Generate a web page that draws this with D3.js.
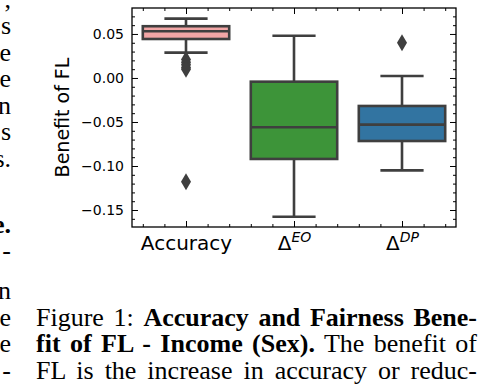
<!DOCTYPE html>
<html>
<head>
<meta charset="utf-8">
<script src="https://cdn.jsdelivr.net/npm/d3@7"></script>
<style>
  html, body { margin: 0; padding: 0; background: #fff; }
  svg { display: block; }
  .tick text { font-family: "DejaVu Sans", sans-serif; fill: #000; }
</style>
</head>
<body>
<svg id="chart" width="478" height="392"></svg>
<script>
// box plot summary
const categories = ['Accuracy', 'EO', 'DP'];
const q1 = [0.0443, -0.0920, -0.0716];
const median = [0.0531, -0.0560, -0.0530];
const q3 = [0.0588, -0.0042, -0.0318];
const whiskerLow = [0.0288, -0.1576, -0.1050];
const whiskerHigh = [0.0674, 0.0480, 0.0023];
const outliers = [[0.021, 0.018, 0.015, 0.012, 0.010, -0.118], [], [0.040]];
const boxColors = ['#f2a6a6', '#3d9439', '#3274a1'];

const yMajor = [-0.15, -0.10, -0.05, 0.00, 0.05];
const yMinor = d3.range(-16, 8).map(d => d / 100).filter(v => !yMajor.some(m => Math.abs(m - v) < 1e-9));
const xMinor = [-0.4, -0.2, 0.2, 0.4, 0.6, 0.8, 1.2, 1.4, 1.6, 1.8, 2.2, 2.4];

// surrounding page text
const leftFragments = [
  {t: ',', y: 8}, {t: 's', y: 34}, {t: 'e', y: 61}, {t: 'e', y: 87}, {t: 'n', y: 114},
  {t: 's', y: 140}, {t: 's.', y: 167}, {t: 'e.', y: 233, bold: true}, {t: '-', y: 259},
  {t: 'n', y: 299}, {t: 'e', y: 326}, {t: 'e', y: 352}, {t: '-', y: 379}
];
const captionLines = [
  [{t: 'Figure 1: '}, {t: 'Accuracy and Fairness Bene-', bold: true}],
  [{t: 'fit of FL - Income (Sex).', bold: true}, {t: ' The benefit of'}],
  [{t: 'FL is the increase in accuracy or reduc-'}]
];

const svg = d3.select('#chart');
const W = 478, H = 392;
svg.append('rect').attr('width', W).attr('height', H).attr('fill', '#fff');

const plot = {left: 132, right: 456, top: 8, bottom: 227};
const x = d3.scaleLinear().domain([-0.5, 2.5]).range([plot.left, plot.right]);
const y = d3.scaleLinear().domain([-0.1693, 0.0795]).range([plot.bottom, plot.top]);
const fmt = v => d3.format('.2f')(v).replace('-', '\u2212');
const lineCol = '#3f3f3f';

// boxes
const boxW = (x(1) - x(0)) * 0.8;
const capW = boxW / 2;
const g = svg.append('g');
categories.forEach((c, i) => {
  const cx = x(i);
  const bg = g.append('g');
  bg.append('line').attr('x1', cx).attr('x2', cx).attr('y1', y(q3[i])).attr('y2', y(whiskerHigh[i]))
    .attr('stroke', lineCol).attr('stroke-width', 2.6);
  bg.append('line').attr('x1', cx).attr('x2', cx).attr('y1', y(q1[i])).attr('y2', y(whiskerLow[i]))
    .attr('stroke', lineCol).attr('stroke-width', 2.6);
  [whiskerHigh[i], whiskerLow[i]].forEach(v => {
    bg.append('line').attr('x1', cx - capW / 2).attr('x2', cx + capW / 2).attr('y1', y(v)).attr('y2', y(v))
      .attr('stroke', lineCol).attr('stroke-width', 2.6);
  });
  bg.append('rect').attr('x', cx - boxW / 2).attr('width', boxW)
    .attr('y', y(q3[i])).attr('height', y(q1[i]) - y(q3[i]))
    .attr('fill', boxColors[i]).attr('stroke', lineCol).attr('stroke-width', 2.6);
  bg.append('line').attr('x1', cx - boxW / 2).attr('x2', cx + boxW / 2).attr('y1', y(median[i])).attr('y2', y(median[i]))
    .attr('stroke', lineCol).attr('stroke-width', 2.6);
  bg.selectAll('path.flier').data(outliers[i]).join('path').attr('class', 'flier')
    .attr('d', d => `M${cx},${y(d) - 8.5}L${cx + 5},${y(d)}L${cx},${y(d) + 8.5}L${cx - 5},${y(d)}Z`)
    .attr('fill', lineCol);
});

// frame and ticks (pointing inward on all four sides)
const axes = svg.append('g').attr('stroke-width', 1);
const left = axes.append('g').attr('transform', `translate(${plot.left},0)`)
  .call(d3.axisLeft(y).tickValues(yMajor).tickSizeInner(-6).tickSizeOuter(0).tickPadding(8).tickFormat(fmt));
left.selectAll('text').style('font-size', '14px');
axes.append('g').attr('transform', `translate(${plot.left},0)`)
  .call(d3.axisLeft(y).tickValues(yMinor).tickSizeInner(-3).tickSizeOuter(0).tickFormat(''));
axes.append('g').attr('transform', `translate(${plot.right},0)`)
  .call(d3.axisRight(y).tickValues(yMajor).tickSizeInner(-6).tickSizeOuter(0).tickFormat(''));
axes.append('g').attr('transform', `translate(${plot.right},0)`)
  .call(d3.axisRight(y).tickValues(yMinor).tickSizeInner(-3).tickSizeOuter(0).tickFormat(''));
const bottom = axes.append('g').attr('transform', `translate(0,${plot.bottom})`)
  .call(d3.axisBottom(x).tickValues([0, 1, 2]).tickSizeInner(-6).tickSizeOuter(0).tickFormat(''));
axes.append('g').attr('transform', `translate(0,${plot.bottom})`)
  .call(d3.axisBottom(x).tickValues(xMinor).tickSizeInner(-3).tickSizeOuter(0).tickFormat(''));
axes.append('g').attr('transform', `translate(0,${plot.top})`)
  .call(d3.axisTop(x).tickValues([0, 1, 2]).tickSizeInner(-6).tickSizeOuter(0).tickFormat(''));
axes.append('g').attr('transform', `translate(0,${plot.top})`)
  .call(d3.axisTop(x).tickValues(xMinor).tickSizeInner(-3).tickSizeOuter(0).tickFormat(''));
axes.selectAll('.domain').remove();
axes.selectAll('.tick line').attr('stroke', '#000');
svg.append('rect').attr('x', plot.left).attr('y', plot.top)
  .attr('width', plot.right - plot.left).attr('height', plot.bottom - plot.top)
  .attr('fill', 'none').attr('stroke', '#000').attr('stroke-width', 1.3);

// x labels: plain text and Delta with superscripts
bottom.selectAll('.tick').each(function(d) {
  const t = d3.select(this).append('text').attr('y', 23).attr('text-anchor', 'middle')
    .style('font-size', '20px').attr('fill', '#000');
  if (d === 0) {
    t.text(categories[0]);
  } else {
    t.append('tspan').text('\u0394');
    t.append('tspan').text(categories[d]).attr('dy', -8).style('font-size', '14px').style('font-style', 'italic');
  }
});

// y label
svg.append('text').attr('transform', `translate(69,${(plot.top + plot.bottom) / 2}) rotate(-90)`)
  .attr('text-anchor', 'middle').style('font-family', '"DejaVu Sans", sans-serif').style('font-size', '19px')
  .text('Benefit of FL');

// page text left of the figure (cut at the edge)
svg.append('g').selectAll('text').data(leftFragments).join('text')
  .attr('x', 11).attr('y', d => d.y).attr('text-anchor', 'end')
  .style('font-family', '"Liberation Serif", serif').style('font-size', '26px')
  .style('font-weight', d => d.bold ? 'bold' : 'normal').text(d => d.t);

// caption, justified between capL and capR
const capL = 36, capR = 477, capY = [326, 352, 379];
captionLines.forEach((parts, i) => {
  const t = svg.append('text').attr('x', capL).attr('y', capY[i])
    .style('font-family', '"Liberation Serif", serif').style('font-size', '26px');
  parts.forEach(p => t.append('tspan').text(p.t).style('font-weight', p.bold ? 'bold' : 'normal'));
  const len = t.node().getComputedTextLength();
  const spaces = parts.map(p => p.t).join('').split(' ').length - 1;
  const extra = (capR - capL - len) / spaces;
  t.style('word-spacing', extra + 'px');
});
</script>
</body>
</html>
